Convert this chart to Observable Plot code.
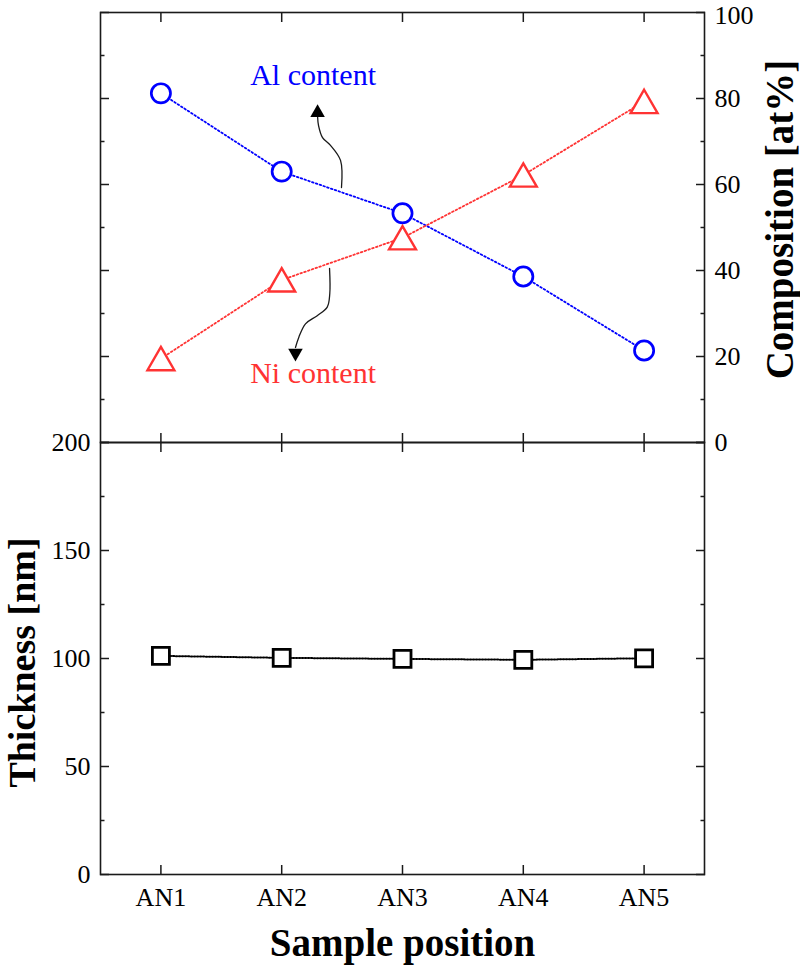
<!DOCTYPE html>
<html><head><meta charset="utf-8">
<script src="https://cdn.jsdelivr.net/npm/d3@7"></script>
<script src="https://cdn.jsdelivr.net/npm/@observablehq/plot@0.6"></script>
<style>
body{margin:0;background:#fff;}
#chart{position:relative;width:800px;height:968px;font-family:"Liberation Serif","Times New Roman",serif;}
#chart svg{position:absolute;left:0;}
</style></head><body><div id="chart"></div>
<script>
// ---- data ----
const samples = ["AN1", "AN2", "AN3", "AN4", "AN5"];
const alContent = [81.2, 63.0, 53.3, 38.6, 21.4];
const niContent = [19.5, 37.8, 47.6, 62.2, 79.3];
const thickness = [101.2, 100.3, 99.8, 99.4, 100.1];
const compTicks = [0, 20, 40, 60, 80, 100];
const compMinor = [10, 30, 50, 70, 90];
const thickTicks = [0, 50, 100, 150, 200];
const thickMinor = [25, 75, 125, 175];
// annotation curves (sample-index, at%)
const alArrowX = [1.495, 1.487, 1.404, 1.338, 1.305, 1.297];
const alArrowY = [59.3, 65.6, 69.1, 70.9, 73.7, 75.8];
const alHead = [1.297, 76.7];
const niArrowX = [1.396, 1.398, 1.377, 1.294, 1.197, 1.142, 1.114];
const niArrowY = [40.5, 34.6, 31.5, 29.5, 27.6, 24.5, 22.1];
const niHead = [1.114, 20.8];
const alLabel = ["Al content", 1.26, 85.3];
const niLabel = ["Ni content", 1.26, 16.0];

const BLUE = "#0000ff", RED = "#ff3333", INK = "#1a1a1a";
const FONT = "Liberation Serif";
const idx = samples.map((_, i) => i);
const comp = samples.map((s, i) => ({i, al: alContent[i], ni: niContent[i]}));
const thick = samples.map((s, i) => ({i, t: thickness[i]}));
const alCurve = alArrowX.map((x, k) => ({x, y: alArrowY[k]}));
const niCurve = niArrowX.map((x, k) => ({x, y: niArrowY[k]}));
const compTop = compTicks[compTicks.length - 1];

const blank = () => "";
function xTicks(anchor) {
  return Plot.axisX(idx, {anchor, tickSize: -9, tickFormat: blank, label: null, strokeWidth: 1.5, stroke: INK});
}
function yTicks(major, minor, anchor) {
  return [
    Plot.axisY(major, {anchor, tickSize: -9, tickFormat: blank, label: null, strokeWidth: 1.5, stroke: INK}),
    Plot.axisY(minor, {anchor, tickSize: -4.5, tickFormat: blank, label: null, strokeWidth: 1.5, stroke: INK})
  ];
}
const baseStyle = {background: "transparent", overflow: "visible", fontFamily: FONT, fontSize: "26px", color: "#000"};
const titleOpts = {rotate: -90, textAnchor: "middle", lineAnchor: "middle", fontSize: 39, fontWeight: "bold", fontFamily: FONT, fill: "black"};

const topPlot = Plot.plot({
  width: 800, height: 443,
  marginLeft: 100, marginRight: 96, marginTop: 12, marginBottom: 1,
  style: baseStyle,
  x: {type: "linear", domain: [-0.5, 4.5], axis: null},
  y: {domain: [0, 100], axis: null},
  marks: [
    xTicks("top"), xTicks("bottom"),
    ...yTicks(compTicks, compMinor, "left"),
    ...yTicks(compTicks, compMinor, "right"),
    Plot.axisY(compTicks.filter(v => v !== compTop), {anchor: "right", tickSize: 0, tickPadding: 10, label: null, fontSize: 26}),
    Plot.axisY([compTop], {anchor: "right", tickSize: 0, tickPadding: 10, label: null, fontSize: 26, dy: 3}),
    Plot.line(comp, {x: "i", y: "al", stroke: BLUE, strokeWidth: 1.8, strokeDasharray: "1.6,2.4"}),
    Plot.line(comp, {x: "i", y: "ni", stroke: RED, strokeWidth: 1.8, strokeDasharray: "1.6,2.4"}),
    Plot.dot(comp, {x: "i", y: "al", symbol: "circle", r: 9.6, stroke: BLUE, fill: "white", strokeWidth: 2.7}),
    Plot.dot(comp, {x: "i", y: "ni", symbol: "triangle", r: 10, stroke: RED, fill: "white", strokeWidth: 2.4, dy: 3.8}),
    Plot.line(alCurve, {x: "x", y: "y", curve: "catmull-rom", stroke: INK, strokeWidth: 1.3}),
    Plot.line(niCurve, {x: "x", y: "y", curve: "catmull-rom", stroke: INK, strokeWidth: 1.3}),
    Plot.dot([alHead], {x: d => d[0], y: d => d[1], symbol: "triangle", r: 5.4, fill: "black", stroke: null}),
    Plot.dot([niHead], {x: d => d[0], y: d => d[1], symbol: "triangle", r: 5.4, fill: "black", stroke: null, rotate: 180}),
    Plot.text([alLabel], {x: d => d[1], y: d => d[2], text: d => d[0], fill: BLUE, fontSize: 30, fontFamily: FONT}),
    Plot.text([niLabel], {x: d => d[1], y: d => d[2], text: d => d[0], fill: RED, fontSize: 30, fontFamily: FONT}),
    Plot.text(["Composition [at%]"], {...titleOpts, frameAnchor: "right", dx: 76, dy: -8}),
    Plot.frame({stroke: INK, strokeWidth: 1.6})
  ]
});

const bottomPlot = Plot.plot({
  width: 800, height: 538,
  marginLeft: 100, marginRight: 96, marginTop: 12, marginBottom: 94,
  style: baseStyle,
  x: {type: "linear", domain: [-0.5, 4.5], axis: null},
  y: {domain: [0, 200], axis: null},
  marks: [
    xTicks("top"), xTicks("bottom"),
    ...yTicks(thickTicks, thickMinor, "left"),
    ...yTicks(thickTicks, thickMinor, "right"),
    Plot.axisY(thickTicks, {anchor: "left", tickSize: 0, tickPadding: 10, label: null, fontSize: 26}),
    Plot.axisX(idx, {anchor: "bottom", tickSize: 0, tickPadding: 13, tickFormat: i => samples[i], label: null, fontSize: 26}),
    Plot.line(thick, {x: "i", y: "t", stroke: "black", strokeWidth: 2, strokeDasharray: "1.3,1.7"}),
    Plot.dot(thick, {x: "i", y: "t", symbol: "square", r: 9.6, stroke: "black", fill: "white", strokeWidth: 2.8}),
    Plot.text(["Thickness [nm]"], {...titleOpts, fontSize: 38, frameAnchor: "left", dx: -78, dy: 4}),
    Plot.text(["Sample position"], {...titleOpts, rotate: 0, frameAnchor: "bottom", dy: 69}),
    Plot.frame({stroke: INK, strokeWidth: 1.6})
  ]
});

const chart = document.getElementById("chart");
topPlot.style.top = "0px";
bottomPlot.style.top = "430px";
chart.appendChild(topPlot);
chart.appendChild(bottomPlot);
</script></body></html>
